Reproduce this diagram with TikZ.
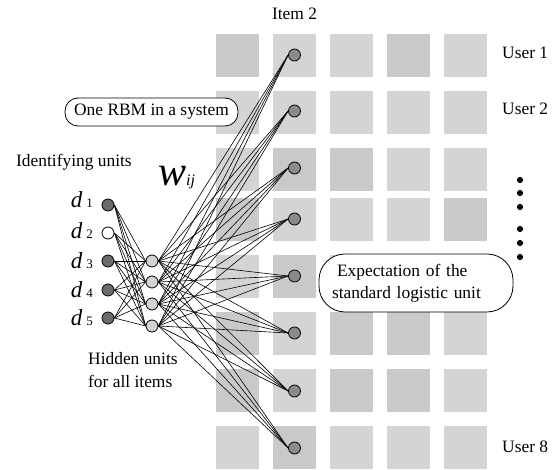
\documentclass[tikz,border=0pt]{standalone}
\usepackage{fontspec}
\setmainfont{Liberation Serif}
\usetikzlibrary{backgrounds}
\definecolor{cellL}{HTML}{D4D4D4}
\definecolor{cellD}{HTML}{C9C9C9}
\definecolor{visgray}{HTML}{8A8A8A}
\definecolor{idgray}{HTML}{6A6A6A}
\definecolor{hidgray}{HTML}{D2D2D2}
\newcommand{\mydlab}[1]{{\fontsize{23}{23}\selectfont\itshape d}\hspace{4pt}{\fontsize{13}{13}\selectfont #1}}
\begin{document}
\begin{tikzpicture}[x=1pt,y=-1pt,
  unit/.style={circle,draw=black,line width=0.8pt,minimum size=12pt,inner sep=0pt},
  vis/.style={unit,fill=visgray},
  idn/.style={unit,fill=idgray},
  idw/.style={unit,fill=white},
  hid/.style={unit,fill=hidgray},
  link/.style={line width=0.6pt,black},
  callout/.style={draw=black,line width=0.8pt,fill=white},
  lbl/.style={inner sep=0pt,font=\fontsize{17.4}{22}\selectfont}]
\useasboundingbox (0,0) rectangle (555,470);
% units
\foreach \y [count=\i] in {55,111,168,219,276,333,391,448}
  \node[vis] (v\i) at (294.5,\y) {};
\node[idn] (d1) at (108,205) {};
\node[idw] (d2) at (108,233) {};
\node[idn] (d3) at (108,261) {};
\node[idn] (d4) at (108,290) {};
\node[idn] (d5) at (108,318) {};
\foreach \y [count=\j] in {261,282,304,326}
  \node[hid] (h\j) at (152,\y) {};
\begin{pgfonlayer}{background}
  \foreach \x in {216,273,330,387,444}
    \foreach \y in {34,91,148,198,255,312,369,426}
      \fill[cellL] (\x,\y) rectangle ++(43,43);
  \foreach \x/\y in {216/34,387/34,273/148,330/148,216/198,444/198,273/255,216/312,330/312,387/312,216/369,330/369,387/369,273/426}
    \fill[cellD] (\x,\y) rectangle ++(43,43);
  \foreach \i in {1,...,5}
    \foreach \j in {1,...,4}
      \draw[link] (d\i.east) -- (h\j.west);
  \foreach \j in {1,...,4}
    \foreach \i in {1,...,8}
      \draw[link] (h\j.east) -- (v\i.west);
\end{pgfonlayer}
% labels
\node[lbl,anchor=base] (item) at (294.5,20) {Item 2};
\node[lbl,anchor=base west] (u1) at (502,59) {User 1};
\node[lbl,anchor=base west] (u2) at (502,115) {User 2};
\node[lbl,anchor=base west] (u8) at (502,453) {User 8};
\foreach \y in {180,193,207,229,243,257}
  \fill (520,\y) circle (3.1pt);
\node[lbl,anchor=base west] (ident) at (16,167) {Identifying units};
\node[lbl,anchor=base west] (hidtxt1) at (88,365) {Hidden units};
\node[lbl,anchor=base west] (hidtxt2) at (88,388) {for all items};
\node[inner sep=0pt,anchor=base east] (ld1) at (93,208) {\mydlab{1}};
\node[inner sep=0pt,anchor=base east] (ld2) at (93,239) {\mydlab{2}};
\node[inner sep=0pt,anchor=base east] (ld3) at (93,269) {\mydlab{3}};
\node[inner sep=0pt,anchor=base east] (ld4) at (93,298) {\mydlab{4}};
\node[inner sep=0pt,anchor=base east] (ld5) at (93,326) {\mydlab{5}};
\node[inner sep=0pt,anchor=base west] (wij) at (158,186) {{\fontsize{42}{42}\selectfont\itshape w}{\fontsize{16}{16}\selectfont\itshape ij}};
% callouts
\node[callout,lbl,rounded corners=13pt,minimum width=173pt,minimum height=28pt] (rbm) at (151.5,112) {One RBM in a system};
\node[callout,lbl,rounded corners=26pt,text width=168pt,inner xsep=13pt,inner ysep=0pt,minimum height=58pt,align=left] (expt) at (416,283) {\hspace{5pt}Expectation of the\\standard logistic unit};
\end{tikzpicture}
\end{document}
